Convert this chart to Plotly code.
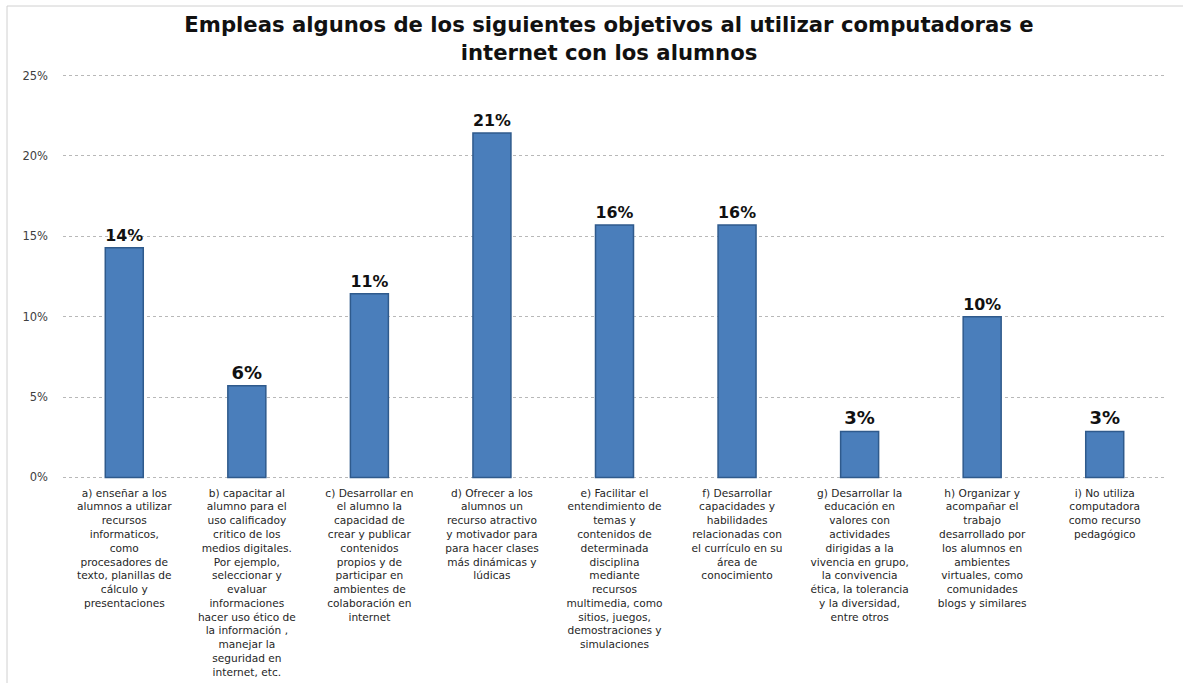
import plotly.graph_objects as go

# categorias (una linea por elemento, se unen con <br>)
cat_lines = [
    ["a) enseñar a los", "alumnos a utilizar", "recursos", "informaticos,", "como",
     "procesadores de", "texto, planillas de", "cálculo y", "presentaciones"],
    ["b) capacitar al", "alumno para el", "uso calificadoy", "critico de los",
     "medios digitales.", "Por ejemplo,", "seleccionar y", "evaluar", "informaciones",
     "hacer uso ético de", "la información ,", "manejar la", "seguridad en", "internet, etc."],
    ["c) Desarrollar en", "el alumno la", "capacidad de", "crear y publicar", "contenidos",
     "propios y de", "participar en", "ambientes de", "colaboración en", "internet"],
    ["d) Ofrecer a los", "alumnos un", "recurso atractivo", "y motivador para",
     "para hacer clases", "más dinámicas y", "lúdicas"],
    ["e) Facilitar el", "entendimiento de", "temas y", "contenidos de", "determinada",
     "disciplina", "mediante", "recursos", "multimedia, como", "sitios, juegos,",
     "demostraciones y", "simulaciones"],
    ["f) Desarrollar", "capacidades y", "habilidades", "relacionadas con",
     "el currículo en su", "área de", "conocimiento"],
    ["g) Desarrollar la", "educación en", "valores con", "actividades", "dirigidas a la",
     "vivencia en grupo,", "la convivencia", "ética, la tolerancia", "y la diversidad,",
     "entre otros"],
    ["h) Organizar y", "acompañar el", "trabajo", "desarrollado por", "los alumnos en",
     "ambientes", "virtuales, como", "comunidades", "blogs y similares"],
    ["i) No utiliza", "computadora", "como recurso", "pedagógico"],
]
categories = ["<br>".join(l) for l in cat_lines]

# porcentaje de respuestas
values = [0.1429, 0.0571, 0.1143, 0.2143, 0.1571, 0.1571, 0.0286, 0.1000, 0.0286]

y_ticks = [0, 0.05, 0.10, 0.15, 0.20, 0.25]

title = "Empleas algunos de los siguientes objetivos al utilizar computadoras e<br>internet con los alumnos"

W, H = 1183, 683
# area de trazado: 0% en y=477, 25% en y=76 (rango un poco ampliado para ver las lineas extremas)
pad = 0.001
px_per = 401 / 0.25
L, R = 63, 17
T = round(76 - pad * px_per)
B = round(H - 477 - pad * px_per)

fig = go.Figure(go.Bar(
    x=categories, y=values,
    marker=dict(color="#4A7EBB", line=dict(color="#2F5A8C", width=1.5)),
    texttemplate="<b>%{y:.0%}</b>", textposition="outside", cliponaxis=False,
    textfont=dict(family="DejaVu Sans", size=18, color="#111"),
))

fig.update_layout(
    width=W, height=H,
    margin=dict(l=L, r=R, t=T, b=B, autoexpand=False),
    paper_bgcolor="white", plot_bgcolor="white",
    bargap=0.69,
    showlegend=False,
    title=dict(text=f"<b>{title}</b>", x=0.5148, xref="container", xanchor="center",
               y=1 - 32 / H, yref="container", yanchor="top",
               font=dict(family="DejaVu Sans", size=21.2, color="#111")),
    xaxis=dict(showgrid=False, showline=False, zeroline=False, ticks="",
               tickangle=0, ticklabelstandoff=6, automargin=False,
               tickfont=dict(family="DejaVu Sans", size=10.6, color="#262626")),
    yaxis=dict(range=[-pad, 0.25 + pad], tickvals=y_ticks, tickformat=".0%",
               showgrid=True, gridcolor="#B8B8B8", gridwidth=1, griddash="dot",
               zeroline=False, showline=False, ticks="", ticklabelstandoff=14,
               automargin=False,
               tickfont=dict(family="DejaVu Sans", size=11.5, color="#404040")),
)

# borde del area del grafico
pw, ph = W - L - R, H - T - B
fig.add_shape(type="rect", xref="paper", yref="paper",
              x0=(7 - L) / pw, x1=(W + 20 - L) / pw,
              y0=-(B + 20) / ph, y1=(H - B - 6) / ph,
              line=dict(color="#D0D0D0", width=1), fillcolor="rgba(0,0,0,0)", layer="below")

# sin margen del body para que la figura empiece en (0, 0)
fig.write_html("out.html", config={"displayModeBar": False},
               post_script="document.body.style.margin='0';")
